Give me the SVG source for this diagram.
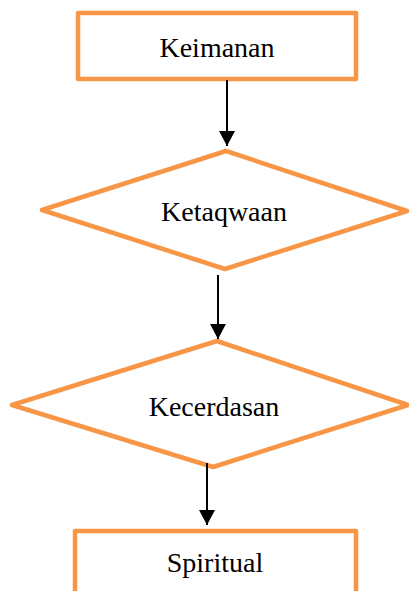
<svg xmlns="http://www.w3.org/2000/svg" width="409" height="591" viewBox="0 0 409 591">
<style>
.shape{fill:#ffffff;stroke:#F79646;stroke-width:4.5;stroke-linejoin:round}
.lbl{font-family:"Liberation Serif","Times New Roman",serif;font-size:28px;fill:#000;text-anchor:middle}
.conn{stroke:#000;stroke-width:2;fill:none}
</style>
<defs>
<marker id="ah" markerUnits="userSpaceOnUse" markerWidth="16" markerHeight="16" viewBox="0 0 16 16" refX="15" refY="8" orient="auto">
<path d="M0,0 L15,8 L0,16 Z" fill="#000"/>
</marker>
</defs>
<rect width="409" height="591" fill="#fff"/>
<g id="node-keimanan">
<rect class="shape" x="78" y="13" width="278" height="66"/>
<text class="lbl" x="217" y="57">Keimanan</text>
</g>
<g id="node-ketaqwaan">
<polygon class="shape" points="226,151 407,211 225,269 42,210"/>
<text class="lbl" x="224" y="221">Ketaqwaan</text>
</g>
<g id="node-kecerdasan">
<polygon class="shape" points="217,341 408,405 213,467 12,405"/>
<text class="lbl" x="214" y="416">Kecerdasan</text>
</g>
<g id="node-spiritual">
<rect class="shape" x="75" y="531" width="281" height="80"/>
<text class="lbl" x="215" y="572">Spiritual</text>
</g>
<g id="connectors">
<line class="conn" x1="227" y1="80" x2="227" y2="146" marker-end="url(#ah)"/>
<line class="conn" x1="218" y1="275" x2="218" y2="339" marker-end="url(#ah)"/>
<line class="conn" x1="207" y1="463" x2="207" y2="525" marker-end="url(#ah)"/>
</g>
</svg>
